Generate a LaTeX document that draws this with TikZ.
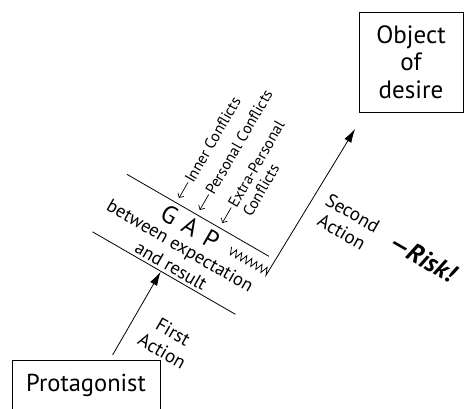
\documentclass[tikz,border=0pt]{standalone}
\usepackage{fontspec}
\setmainfont{PT Sans}
\usetikzlibrary{arrows.meta}
\begin{document}
\begin{tikzpicture}[x=1pt,y=-1pt, line width=0.8pt,
  box/.style={draw, line width=0.8pt, inner sep=0pt, align=center},
  bigarrow/.style={-{Latex[length=14pt,width=8pt]}},
  smallarrow/.style={-{Straight Barb[length=3.5pt,width=7pt]}, line width=0.7pt},
  conflict/.style={font=\fontsize{15.5}{17}\selectfont, rotate=60, anchor=west, inner sep=1pt},
  midtext/.style={font=\fontsize{18.5}{18.5}\selectfont, rotate=-30, anchor=base, inner sep=0pt},
  actlabel/.style={font=\fontsize{19}{22}\selectfont, rotate=-30, align=center, inner sep=0pt}]
\useasboundingbox (0,0) rectangle (464,408);

\node[box, minimum width=104pt, minimum height=100pt, font=\fontsize{25}{27.5}\selectfont] (obj) at (411,62) {Object\\of\\desire};
\node[box, minimum width=148pt, minimum height=50pt, font=\fontsize{24.5}{26}\selectfont] (prot) at (86,385) {Protagonist};

\begin{scope}[rotate=-30]
  % the two lines of the gap
  \coordinate (u1) at (197,87.5);  \coordinate (u2) at (361,87.5);
  \coordinate (l1) at (196,154.5); \coordinate (l2) at (361,154.5);
  \draw (u1) -- (u2);
  \draw (l1) -- (l2);

  \node[font=\fontsize{25}{25}\selectfont, rotate=-30, anchor=base, inner sep=0pt] (gap) at (278,110) {G\hspace{0.38em}A\hspace{0.38em}P};
  \node[midtext] (btw) at (279,129) {between expectation};
  \node[midtext] (res) at (281,151) {and result};

  % conflicts
  \coordinate (ti1) at (254,82);
  \coordinate (ti2) at (278,82);
  \coordinate (ti3) at (304,82);
  \node[conflict] (inner) at (254,64) {Inner Conflicts};
  \node[conflict] (pers) at (278,64) {Personal Conflicts};
  \node[conflict] (extra) at (304,64) {Extra-Personal};
  \node[conflict] (extra2) at (321,64) {Conflicts};
  \draw[smallarrow] (inner.west) -- (ti1);
  \draw[smallarrow] (pers.west) -- (ti2);
  \draw[smallarrow] (extra.west) -- (ti3);

  % first action
  \coordinate (a1s) at (275,251);
  \coordinate (a1e) at (275,155);
  \draw[bigarrow] (a1s) -- (a1e);
  \node[actlabel] (first) at (316,212) {First\\Action};

  % zigzag and second action
  \coordinate (zs) at (324,98);
  \coordinate (tip2) at (372,-66);
  \draw[bigarrow, line join=miter] (zs) \foreach \k in {1,...,15} { -- ({324+\k*2.9333}, {isodd(\k) ? 105.5 : 98}) } -- (tip2);
  \node[actlabel] (second) at (412,19) {Second\\Action};
  \node[font=\fontsize{26}{26}\selectfont\bfseries\itshape, rotate=-30, inner sep=0pt] (risk) at (495,12) {—Risk!};
\end{scope}
\end{tikzpicture}
\end{document}
